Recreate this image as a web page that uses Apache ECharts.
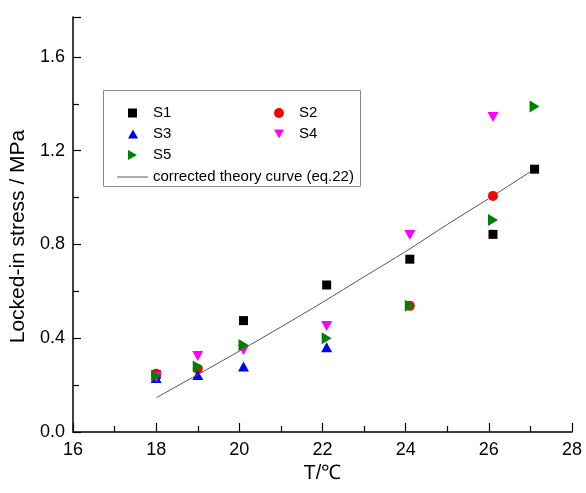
<!DOCTYPE html>
<html><head><meta charset="utf-8">
<script src="https://cdn.jsdelivr.net/npm/echarts@6/dist/echarts.min.js"></script>
<style>html,body{margin:0;padding:0;background:#fff}#c{width:586px;height:493px}</style>
</head><body><div id="c"></div>
<script>
const s1X = [18, 20.1, 22.1, 24.1, 26.1, 27.1];
const s1Y = [0.245, 0.475, 0.627, 0.737, 0.843, 1.121];
const s2X = [18, 19, 24.1, 26.1];
const s2Y = [0.248, 0.27, 0.538, 1.007];
const s3X = [18, 19, 20.1, 22.1];
const s3Y = [0.23, 0.243, 0.279, 0.361];
const s4X = [18, 19, 20.1, 22.1, 24.1, 26.1];
const s4Y = [0.235, 0.324, 0.35, 0.452, 0.84, 1.343];
const s5X = [18, 19, 20.1, 22.1, 24.1, 26.1, 27.1];
const s5Y = [0.24, 0.279, 0.371, 0.40, 0.538, 0.904, 1.388];
const curveX = [18, 19, 20, 21, 22, 23, 24, 25, 26, 27];
const curveY = [0.146, 0.245, 0.345, 0.448, 0.553, 0.662, 0.770, 0.885, 0.996, 1.11];
const xTicks = [16, 18, 20, 22, 24, 26, 28];
const yTicks = [0, 0.4, 0.8, 1.2, 1.6];

const zip = (a, b) => a.map((v, i) => [v, b[i]]);
const FONT = 'Liberation Sans, Arial, sans-serif';
const chart = echarts.init(document.getElementById('c'), null, {renderer: 'canvas'});

const ICON_UP = 'path://M5,0 L10,9 L0,9 Z';
const ICON_DOWN = 'path://M0,0 L10,0 L5,9 Z';
const ICON_RIGHT = 'path://M0,0 L9,5 L0,10 Z';
const ICON_LINE = 'path://M0,0 L31,0 L31,1 L0,1 Z';

function ts(pad) {
  return {fontFamily: FONT, fontSize: 15, color: '#000', lineHeight: 15, padding: [0, 0, 0, pad]};
}
function legendAt(name, icon, left, cy, extra) {
  return Object.assign({
    data: [{name: name, icon: icon}], left: left, top: cy - 7.5, padding: 0,
    itemWidth: 10, itemHeight: 10, selectedMode: false, z: 10,
    textStyle: ts(10)
  }, extra || {});
}

chart.setOption({
  animation: false,
  grid: {left: 72, right: 14, top: 17, bottom: 61},
  graphic: [{type: 'rect', left: 103, top: 90, shape: {width: 257, height: 96},
    style: {fill: 'rgba(255,255,255,0)', stroke: '#888', lineWidth: 1}, z: 1}],
  legend: [
    legendAt('S1', 'rect', 128, 113, {itemWidth: 9, itemHeight: 9, textStyle: ts(11)}),
    legendAt('S2', 'circle', 274, 113),
    legendAt('S3', ICON_UP, 128, 134),
    legendAt('S4', ICON_DOWN, 274, 134),
    legendAt('S5', ICON_RIGHT, 128, 155, {itemWidth: 9, textStyle: ts(11)}),
    legendAt('corrected theory curve (eq.22)', ICON_LINE, 117, 177,
      {itemWidth: 31, itemHeight: 1, textStyle: ts(0)})
  ],
  xAxis: [{
    type: 'value', min: 16, max: 28, interval: 2,
    name: 'T/℃', nameLocation: 'middle', nameGap: 31,
    nameTextStyle: {fontFamily: FONT, fontSize: 20, color: '#000'},
    axisLine: {lineStyle: {color: '#000', width: 1.5}},
    axisTick: {inside: true, length: 9, lineStyle: {color: '#000', width: 1.2}},
    minorTick: {show: true, splitNumber: 2, length: 6, lineStyle: {color: '#000', width: 1.2}},
    axisLabel: {fontFamily: FONT, fontSize: 18, color: '#000', margin: 9,
      customValues: xTicks},
    splitLine: {show: false}
  }],
  yAxis: [{
    type: 'value', min: 0, max: 1.77, interval: 0.4,
    name: 'Locked-in stress / MPa', nameLocation: 'middle', nameGap: 44,
    nameTextStyle: {fontFamily: FONT, fontSize: 21, color: '#000', padding: [0, 24, 0, 0]},
    axisLine: {lineStyle: {color: '#000', width: 1.5}},
    axisTick: {inside: true, length: 8, lineStyle: {color: '#000', width: 1.2}},
    minorTick: {show: true, splitNumber: 2, length: 6, lineStyle: {color: '#000', width: 1.2}},
    axisLabel: {fontFamily: FONT, fontSize: 18, color: '#000', margin: 8,
      customValues: yTicks, formatter: v => v.toFixed(1)},
    splitLine: {show: false}
  }],
  series: [
    {name: 'S1', type: 'scatter', data: zip(s1X, s1Y), symbol: 'rect', symbolSize: 9,
      itemStyle: {color: '#000', opacity: 1}},
    {name: 'S2', type: 'scatter', data: zip(s2X, s2Y), symbol: 'circle', symbolSize: 10,
      itemStyle: {color: '#ff0000', opacity: 1}},
    {name: 'S3', type: 'scatter', data: zip(s3X, s3Y), symbol: 'triangle', symbolSize: [11, 10],
      itemStyle: {color: '#0000ff', opacity: 1}},
    {name: 'S4', type: 'scatter', data: zip(s4X, s4Y), symbol: 'triangle', symbolSize: [11, 10], symbolRotate: 180,
      itemStyle: {color: '#ff00ff', opacity: 1}},
    {name: 'S5', type: 'scatter', data: zip(s5X, s5Y), symbol: 'triangle', symbolSize: [12, 10], symbolRotate: -90,
      itemStyle: {color: '#008000', opacity: 1}},
    {name: 'corrected theory curve (eq.22)', type: 'line', data: zip(curveX, curveY), symbol: 'none',
      smooth: 0.3, lineStyle: {color: '#555', width: 1}, itemStyle: {color: '#555'}, z: 3}
  ]
});
</script></body></html>
